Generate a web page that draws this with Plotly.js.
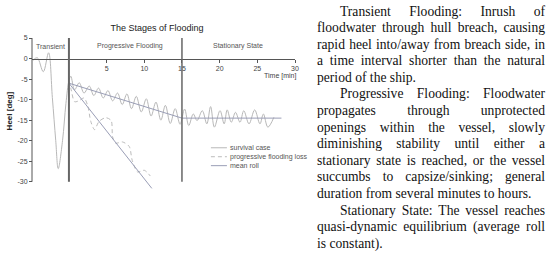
<!DOCTYPE html>
<html><head><meta charset="utf-8">
<script src="https://cdn.plot.ly/plotly-3.0.1.min.js"></script>
<style>
html,body{margin:0;padding:0;background:#fff;}
#wrap{position:relative;width:550px;height:253px;overflow:hidden;background:#fff;}
#chart{position:absolute;left:0;top:0;width:550px;height:253px;}
#text{position:absolute;left:317px;top:3.5px;width:228px;font-family:"Liberation Serif","Times New Roman",serif;font-size:13.6px;line-height:16.6px;color:#111;}
.ln{display:flex;justify-content:space-between;white-space:nowrap;height:16.6px;}
.ln.last{display:block;}
.ln.ind{padding-left:23px;}
</style></head>
<body>
<div id="wrap"><div id="chart"></div><div id="text"></div></div>
<script>
// ---- data ----
const survivalT = [-4.75,-4.2,-3.4,-2.7,-2.2,-1.75,-1.42,-0.85,-0.4,0.0,
  0.25,0.75,1.37,2.0,2.7,3.3,3.93,4.55,5.18,5.8,
  6.45,7.07,7.7,8.3,8.94,9.6,10.27,10.9,11.55,12.2,
  12.8,13.45,14.1,14.75,15.35,15.9,16.5,17.0,17.7,18.3,
  18.8,19.3,20.05,20.6,21.0,21.55,22.1,22.7,23.2,23.9,
  24.65,25.35,25.8,26.4,27.2];
const survivalH = [-0.4,0.2,-3.2,1.4,-9.5,-20,-26.8,-20,-11,-5.4,
  -4.3,-7.6,-5.9,-8.4,-6.7,-9.0,-7.2,-9.6,-7.8,-10.3,
  -8.4,-11.2,-8.6,-12.2,-9.2,-13.0,-9.8,-14.0,-10.6,-15.0,
  -11.4,-15.8,-12.2,-16.0,-12.3,-16.3,-13.5,-15.1,-12.7,-15.9,
  -11.7,-16.7,-12.7,-15.9,-12.5,-15.5,-13.1,-15.5,-12.7,-15.9,
  -12.5,-15.9,-13.5,-16.7,-14.3];
const lossT = [0.0,0.3,0.75,1.3,2.0,2.5,2.9,3.4,4.0,4.9,5.6,5.8,6.2,7.1,8.0,8.4,9.1,10.0,10.8];
const lossH = [-5.4,-7.6,-10.5,-10.3,-9.6,-11.5,-15.3,-17.3,-15.3,-14.4,-15.1,-19.1,-20.6,-20.3,-21.4,-24.8,-27.6,-27.2,-28.6];
const meanT = [0,15,28.2,null,0,11.0];
const meanH = [-6,-14.5,-14.5,null,-6,-31.6];
const stageBounds = [0,15];
const stageNames = ['Transient','Progressive Flooding','Stationary State'];
const seriesNames = ['survival case','progressive flooding loss','mean roll'];
const xTickVals = [5,10,15,20,25,30];
const xTickText = ['5','10','15','20','25','30'];
const yTickVals = [5,0,-5,-10,-15,-20,-25,-30];
const yTickText = ['5','0','-5','-10','-15','-20','-25','-30'];
const chartTitle = 'The Stages of Flooding';
const xTitle = 'Time [min]';
const yTitle = 'Heel [deg]';
const paragraphs = [
  ['Transient Flooding: Inrush of','floodwater through hull breach, causing','rapid heel into/away from breach side, in','a time interval shorter than the natural','period of the ship.'],
  ['Progressive Flooding: Floodwater','propagates through unprotected','openings within the vessel, slowly','diminishing stability until either a','stationary state is reached, or the vessel','succumbs to capsize/sinking; general','duration from several minutes to hours.'],
  ['Stationary State: The vessel reaches','quasi-dynamic equilibrium (average roll','is constant).']
];

// ---- styles ----
const colSurv = '#b8b8b8', colLoss = '#bcbcbc', colMean = '#9a9eb6';
const styles = [
  {color:colSurv,width:1,dash:'solid'},
  {color:colLoss,width:1,dash:'4px,3px'},
  {color:colMean,width:1,dash:'solid'}
];

const L = 32.3, R = 295, T = 37.5, B = 190.5;
const px2p = p => (p - L) / (R - L);
const py2p = p => (B - p) / (B - T);

const traces = [
  {x:survivalT,y:survivalH,type:'scatter',mode:'lines',name:seriesNames[0],line:Object.assign({shape:'spline',smoothing:1},styles[0]),hoverinfo:'skip'},
  {x:lossT,y:lossH,type:'scatter',mode:'lines',name:seriesNames[1],line:Object.assign({shape:'spline',smoothing:0.8},styles[1]),hoverinfo:'skip'},
  {x:meanT,y:meanH,type:'scatter',mode:'lines',name:seriesNames[2],line:styles[2],hoverinfo:'skip',connectgaps:false}
];

const shapes = [
  {type:'line',xref:'paper',yref:'y',x0:0,x1:0,y0:5,y1:-30,line:{color:'#555',width:1}},
  {type:'line',xref:'x',yref:'y',x0:stageBounds[0],x1:stageBounds[0],y0:5,y1:-30,line:{color:'#666',width:2}},
  {type:'line',xref:'x',yref:'y',x0:stageBounds[1],x1:stageBounds[1],y0:5,y1:-30,line:{color:'#666',width:1.5}}
];
const annotations = [
  {xref:'x',yref:'y',x:-2.45,y:3.0,text:stageNames[0],showarrow:false,font:{size:7,color:'#555'}},
  {xref:'x',yref:'y',x:8.05,y:3.0,text:stageNames[1],showarrow:false,font:{size:7,color:'#555'}},
  {xref:'x',yref:'y',x:22.45,y:3.0,text:stageNames[2],showarrow:false,font:{size:7,color:'#555'}},
  {xref:'paper',yref:'y',x:px2p(297.5),xanchor:'right',y:-4.2,yanchor:'middle',text:xTitle,showarrow:false,font:{size:7,color:'#444'}},
  {xref:'paper',yref:'y',x:px2p(10),xanchor:'center',y:-12.7,yanchor:'middle',text:'<b>'+yTitle+'</b>',textangle:-90,showarrow:false,font:{size:8,color:'#222'}}
];
const legY = [148,157,166];
seriesNames.forEach((n,i)=>{
  shapes.push({type:'line',xref:'paper',yref:'paper',x0:px2p(211),x1:px2p(227),y0:py2p(legY[i]),y1:py2p(legY[i]),line:styles[i]});
  annotations.push({xref:'paper',yref:'paper',x:px2p(229),xanchor:'left',y:py2p(legY[i]),yanchor:'middle',text:n,showarrow:false,font:{size:7,color:'#555'},borderpad:0});
});

const layout = {
  width:550,height:253,
  margin:{l:L,r:550-R,t:T,b:253-B,pad:0},
  paper_bgcolor:'rgba(0,0,0,0)',plot_bgcolor:'rgba(0,0,0,0)',
  showlegend:false,
  font:{family:'"Liberation Sans", Arial, sans-serif',size:7,color:'#444'},
  title:{text:chartTitle,font:{size:9,color:'#222'},x:157/550,xanchor:'center',xref:'container',y:1-28/253,yref:'container',yanchor:'middle'},
  xaxis:{range:[-4.9,30],anchor:'free',position:32/37,showline:true,linecolor:'#555',linewidth:1,ticks:'outside',ticklen:3,tickwidth:1,tickcolor:'#555',tickvals:xTickVals,ticktext:xTickText,showgrid:false,zeroline:false,tickfont:{size:7,color:'#444'},fixedrange:true},
  yaxis:{range:[-32,5],anchor:'free',position:0,showline:false,ticks:'outside',ticklen:3,tickwidth:1,tickcolor:'#555',tickvals:yTickVals,ticktext:yTickText,showgrid:false,zeroline:false,tickfont:{size:7,color:'#444'},fixedrange:true},
  shapes:shapes,annotations:annotations
};
Plotly.newPlot('chart',traces,layout,{staticPlot:true,displayModeBar:false});

// ---- text block ----
const tb = document.getElementById('text');
paragraphs.forEach(par=>{
  par.forEach((line,i)=>{
    const d = document.createElement('div');
    d.className = 'ln' + (i===0?' ind':'') + (i===par.length-1?' last':'');
    if(i===par.length-1){ d.textContent = line; }
    else { line.split(' ').forEach(w=>{const s=document.createElement('span');s.textContent=w;d.appendChild(s);}); }
    tb.appendChild(d);
  });
});
</script>
</body></html>
